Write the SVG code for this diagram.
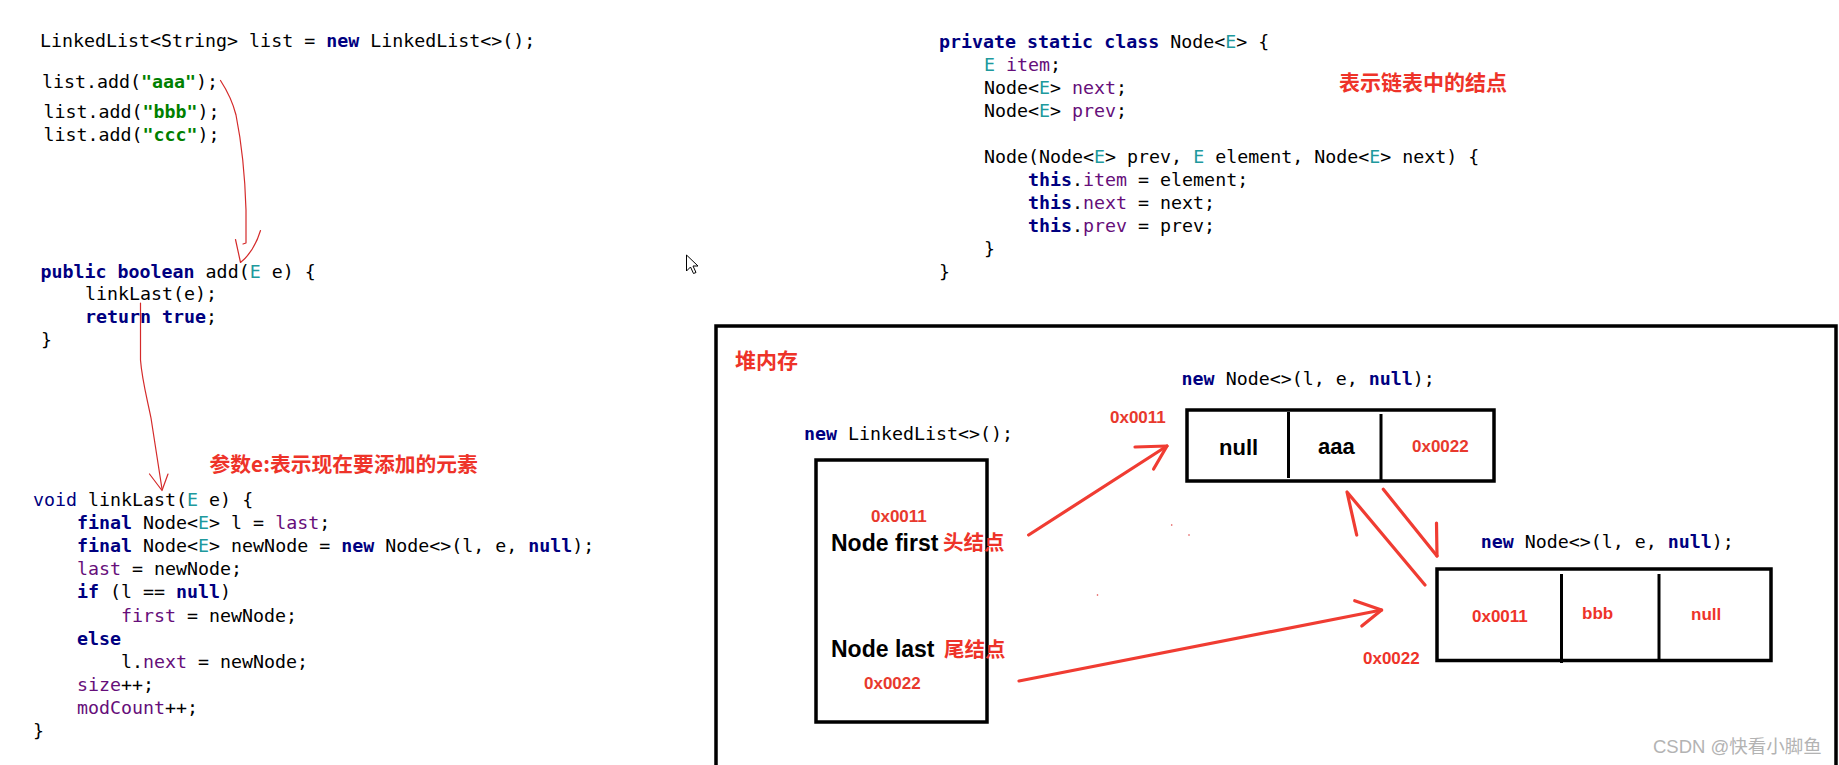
<svg xmlns="http://www.w3.org/2000/svg" width="1839" height="765" viewBox="0 0 1839 765">
<style>
.code{font-family:"DejaVu Sans Mono","Liberation Mono",monospace;font-size:18.3px;fill:#000;white-space:pre}
.kw{fill:#000080;font-weight:bold}
.kwn{fill:#000080}
.str{fill:#008000;font-weight:bold}
.tp{fill:#20999d}
.fld{fill:#660e7a}
.cjk{font-family:"Noto Sans CJK SC",sans-serif;font-weight:bold;fill:#ee3329}
.hex{font-family:"Liberation Sans",Arial,sans-serif;font-size:17px;fill:#e8392d;font-weight:bold}
.hexb{font-family:"Liberation Sans",Arial,sans-serif;font-size:17px;fill:#ee3329;font-weight:bold}
.lbl{font-family:"Liberation Sans",Arial,sans-serif;font-weight:bold;fill:#000}
.box{fill:none;stroke:#000;stroke-width:3.5}
.div{stroke:#000;stroke-width:3}
.thick{fill:none;stroke:#f03c32;stroke-width:3.2;stroke-linecap:round;stroke-linejoin:round}
.thin{fill:none;stroke:#d42a2a;stroke-width:1.2;stroke-linecap:round;stroke-linejoin:round}
.wm{font-family:"Liberation Sans","Noto Sans CJK SC",sans-serif;font-size:18.5px;fill:#b3b3b3}
</style>
<rect x="0" y="0" width="1839" height="765" fill="#fff"/>

<g id="code-main" class="code" xml:space="preserve">
<text x="40" y="47">LinkedList&lt;String&gt; list = <tspan class="kw">new</tspan> LinkedList&lt;&gt;();</text>
<text x="42" y="88">list.add(<tspan class="str">"aaa"</tspan>);</text>
<text x="43.5" y="118">list.add(<tspan class="str">"bbb"</tspan>);</text>
<text x="43.5" y="141">list.add(<tspan class="str">"ccc"</tspan>);</text>
</g>

<g id="code-add" class="code" xml:space="preserve">
<text x="40.5" y="278"><tspan class="kw">public</tspan> <tspan class="kw">boolean</tspan> add(<tspan class="tp">E</tspan> e) {</text>
<text x="85" y="300">linkLast(e);</text>
<text x="85" y="323"><tspan class="kw">return</tspan> <tspan class="kw">true</tspan>;</text>
<text x="41" y="346">}</text>
</g>

<g id="code-linklast" class="code" xml:space="preserve">
<text x="33" y="506"><tspan class="kwn">void</tspan> linkLast(<tspan class="tp">E</tspan> e) {</text>
<text x="77" y="529.1"><tspan class="kw">final</tspan> Node&lt;<tspan class="tp">E</tspan>&gt; l = <tspan class="fld">last</tspan>;</text>
<text x="77" y="552.2"><tspan class="kw">final</tspan> Node&lt;<tspan class="tp">E</tspan>&gt; newNode = <tspan class="kw">new</tspan> Node&lt;&gt;(l, e, <tspan class="kw">null</tspan>);</text>
<text x="77" y="575.3"><tspan class="fld">last</tspan> = newNode;</text>
<text x="77" y="598.4"><tspan class="kw">if</tspan> (l == <tspan class="kw">null</tspan>)</text>
<text x="121" y="621.5"><tspan class="fld">first</tspan> = newNode;</text>
<text x="77" y="644.6"><tspan class="kw">else</tspan></text>
<text x="121" y="667.7">l.<tspan class="fld">next</tspan> = newNode;</text>
<text x="77" y="690.8"><tspan class="fld">size</tspan>++;</text>
<text x="77" y="713.9"><tspan class="fld">modCount</tspan>++;</text>
<text x="33" y="737">}</text>
</g>

<g id="code-node-class" class="code" xml:space="preserve">
<text x="939" y="47.5"><tspan class="kw">private</tspan> <tspan class="kw">static</tspan> <tspan class="kw">class</tspan> Node&lt;<tspan class="tp">E</tspan>&gt; {</text>
<text x="984" y="70.5"><tspan class="tp">E</tspan> <tspan class="fld">item</tspan>;</text>
<text x="984" y="93.5">Node&lt;<tspan class="tp">E</tspan>&gt; <tspan class="fld">next</tspan>;</text>
<text x="984" y="116.5">Node&lt;<tspan class="tp">E</tspan>&gt; <tspan class="fld">prev</tspan>;</text>
<text x="984" y="162.5">Node(Node&lt;<tspan class="tp">E</tspan>&gt; prev, <tspan class="tp">E</tspan> element, Node&lt;<tspan class="tp">E</tspan>&gt; next) {</text>
<text x="1028" y="185.5"><tspan class="kw">this</tspan>.<tspan class="fld">item</tspan> = element;</text>
<text x="1028" y="208.5"><tspan class="kw">this</tspan>.<tspan class="fld">next</tspan> = next;</text>
<text x="1028" y="231.5"><tspan class="kw">this</tspan>.<tspan class="fld">prev</tspan> = prev;</text>
<text x="984" y="254.5">}</text>
<text x="939" y="277.5">}</text>
</g>

<g id="notes">
<text class="cjk" x="209.5" y="471.5" font-size="20.8">参数e:表示现在要添加的元素</text>
<text class="cjk" x="1339" y="90" font-size="21">表示链表中的结点</text>
</g>

<g id="cursor">
<polygon points="686.5,255 686.5,271 690.5,267 693.5,273.5 696,272.5 693,266 698,266" fill="#fff" stroke="#000" stroke-width="1" stroke-linejoin="round"/>
</g>

<g id="heap">
<rect class="box" x="716" y="326" width="1120" height="480"/>
<text class="cjk" x="735" y="368" font-size="21">堆内存</text>
</g>

<g id="linkedlist-node">
<text class="code" x="804" y="440" xml:space="preserve"><tspan class="kw">new</tspan> LinkedList&lt;&gt;();</text>
<rect class="box" x="816" y="460" width="171" height="262" stroke-width="3"/>
<text class="hex" x="871" y="522">0x0011</text>
<text class="lbl" x="831" y="550.5" font-size="23">Node first</text>
<text class="cjk" x="943" y="550" font-size="20.5">头结点</text>
<text class="lbl" x="831" y="657" font-size="23">Node last</text>
<text class="cjk" x="944" y="657" font-size="20.5">尾结点</text>
<text class="hex" x="864" y="689">0x0022</text>
</g>

<g id="node-aaa">
<text class="code" x="1181.6" y="385" xml:space="preserve"><tspan class="kw">new</tspan> Node&lt;&gt;(l, e, <tspan class="kw">null</tspan>);</text>
<text class="hex" x="1110" y="423">0x0011</text>
<rect class="box" x="1187" y="410" width="307" height="71"/>
<line class="div" x1="1288.5" y1="412" x2="1288.5" y2="478"/>
<line class="div" x1="1381" y1="414" x2="1381" y2="480"/>
<text class="lbl" x="1219" y="455" font-size="22">null</text>
<text class="lbl" x="1318" y="454" font-size="22">aaa</text>
<text class="hex" x="1412" y="452" font-weight="normal">0x0022</text>
</g>

<g id="node-bbb">
<text class="code" x="1480.7" y="548" xml:space="preserve"><tspan class="kw">new</tspan> Node&lt;&gt;(l, e, <tspan class="kw">null</tspan>);</text>
<rect class="box" x="1437" y="569" width="334" height="91.5"/>
<line class="div" x1="1561.5" y1="574" x2="1561.5" y2="663"/>
<line class="div" x1="1659" y1="574" x2="1659" y2="660"/>
<text class="hexb" x="1472" y="622">0x0011</text>
<text class="hexb" x="1582" y="619">bbb</text>
<text class="hexb" x="1691" y="620">null</text>
<text class="hexb" x="1363" y="664">0x0022</text>
</g>

<g id="connectors">
<path class="thin" d="M220.5,80.5 C228,92 233,103 236,115 C241,140 245,175 246,210 L246,243 L243,244"/>
<path class="thin" d="M235.5,239.5 L240.5,262.5 C250,255 256,245 260.5,230.5"/>
<path class="thin" d="M140.5,303 L140.5,360 C142,380 147,398 151,418 L162,489"/>
<path class="thin" d="M149.5,474 L162,490.5 L168,474"/>
<path class="thick" d="M1028.6,535 L1167,446"/>
<path class="thick" d="M1135,447 L1167,446 L1153.6,469"/>
<path class="thick" d="M1019,681 L1381.6,610"/>
<path class="thick" d="M1354.7,600.7 L1381.6,610 L1361.8,626"/>
<path class="thick" d="M1383.3,489.3 L1437,556"/>
<path class="thick" d="M1436.5,523 L1437,556"/>
<path class="thick" d="M1425,585 L1347,492 L1356.7,535"/>
<circle cx="1171.7" cy="525" r="0.8" fill="#e04040"/>
<circle cx="1189" cy="535" r="0.8" fill="#e04040"/>
<circle cx="1097.5" cy="595" r="0.8" fill="#e04040"/>
</g>

<text class="wm" x="1653" y="753">CSDN @快看小脚鱼</text>
</svg>
